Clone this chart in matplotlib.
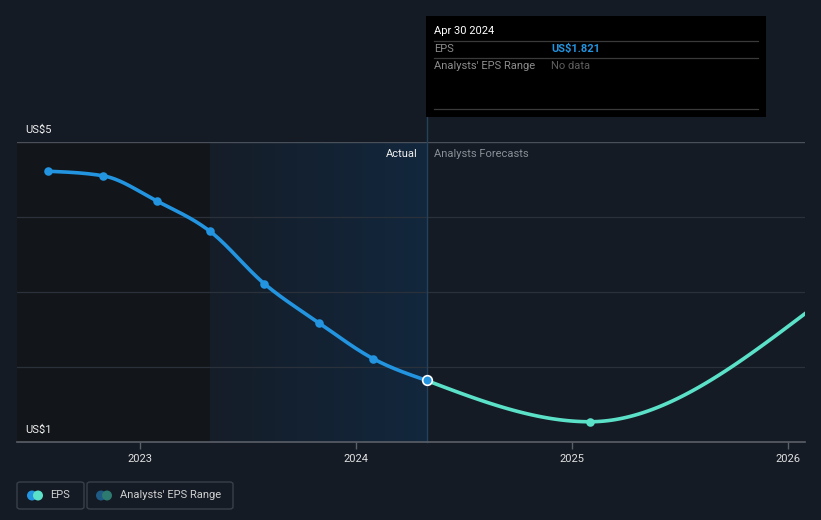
import numpy as np
import pandas as pd
import matplotlib
matplotlib.use("Agg")
import matplotlib.pyplot as plt
import matplotlib.dates as mdates
from matplotlib.patches import FancyBboxPatch, Rectangle, Ellipse
from matplotlib.lines import Line2D
from matplotlib.colors import LinearSegmentedColormap

plt.rcParams['font.family'] = ['Roboto', 'DejaVu Sans']

# ---- data ----
actual_dates = ["2022-07-31", "2022-10-31", "2023-01-31", "2023-04-30",
                "2023-07-31", "2023-10-31", "2024-01-31", "2024-04-30"]
actual_eps = [4.61, 4.55, 4.21, 3.81, 3.11, 2.59, 2.11, 1.821]
forecast_dates = ["2024-04-30", "2025-01-31", "2026-01-31"]
forecast_eps = [1.821, 1.27, 2.72]
year_ticks = ["2023", "2024", "2025", "2026"]
y_labels = {1: "US$1", 5: "US$5"}

BG = "#151b25"
BLUE = "#2394df"
TEAL = "#5ce1c9"


def monotone(x, y, n=60):
    x = np.asarray(x, float); y = np.asarray(y, float)
    h = np.diff(x); d = np.diff(y) / h
    m = np.zeros(len(x))
    for i in range(1, len(x) - 1):
        if d[i - 1] * d[i] <= 0:
            m[i] = 0
        else:
            s = (d[i - 1] * h[i] + d[i] * h[i - 1]) / (h[i - 1] + h[i])
            m[i] = np.sign(s) * min(abs(s), 2 * min(abs(d[i - 1]), abs(d[i])))
    m[0] = (3 * d[0] - m[1]) / 2 if len(x) > 2 else d[0]
    m[-1] = (3 * d[-1] - m[-2]) / 2 if len(x) > 2 else d[-1]
    xs, ys = [], []
    for i in range(len(x) - 1):
        t = np.linspace(0, 1, n)
        h00 = 2 * t**3 - 3 * t**2 + 1; h10 = t**3 - 2 * t**2 + t
        h01 = -2 * t**3 + 3 * t**2; h11 = t**3 - t**2
        xs.append(x[i] + t * h[i])
        ys.append(h00 * y[i] + h10 * h[i] * m[i] + h01 * y[i + 1] + h11 * h[i] * m[i + 1])
    return np.concatenate(xs), np.concatenate(ys)


W, H = 821, 520
fig = plt.figure(figsize=(W / 100, H / 100), dpi=100, facecolor=BG)
L, R, T, B = 17, 805, 142, 442
ax = fig.add_axes([L / W, 1 - B / H, (R - L) / W, (B - T) / H])
ax.set_facecolor(BG)

ad = mdates.date2num(pd.to_datetime(actual_dates))
fd = mdates.date2num(pd.to_datetime(forecast_dates))
x0 = mdates.date2num(pd.Timestamp("2023-01-01"))
ppd = 216.0 / 365.0
xmin = x0 - (139.5 - L) / ppd
xmax = x0 + (R - 139.5) / ppd

# shaded regions
ax.axvspan(xmin, ad[3], color="#121519", zorder=0, lw=0)
grad = np.linspace(0, 1, 256).reshape(1, -1)
cmap = LinearSegmentedColormap.from_list("g", ["#151d28", "#12273d"])
ax.imshow(grad, extent=[ad[3], ad[-1], 1, 5], aspect="auto", cmap=cmap, zorder=0.5)
ax.set_xlim(xmin, xmax)
ax.set_ylim(1, 5)

# grid
for v in [2, 3, 4]:
    ax.axhline(v, color="#2b313b", lw=0.9, zorder=1)
ax.axhline(5, color="#4a505a", lw=1, zorder=1)

# vertical divider
ax.plot([ad[-1], ad[-1]], [1, 5 + 25 / 75], color="#24425c", lw=1, clip_on=False, zorder=2)

# lines
xs, ys = monotone(ad, actual_eps)
ax.plot(xs, ys, color=BLUE, lw=2.6, zorder=3, solid_capstyle="round")
ax.scatter(ad[:-1], actual_eps[:-1], s=38, color=BLUE, zorder=4, lw=0)
xs, ys = monotone(fd, forecast_eps)
ax.plot(xs, ys, color=TEAL, lw=2.6, zorder=3)
ax.scatter(fd[1:2], forecast_eps[1:2], s=38, color=TEAL, zorder=4, lw=0)
ax.scatter([ad[-1]], [actual_eps[-1]], s=48, color=BLUE, edgecolor="white", lw=1.2, zorder=5)

# axes styling
for s in ["top", "right", "left"]:
    ax.spines[s].set_visible(False)
ax.spines["bottom"].set_color("#5a5f68")
ax.spines["bottom"].set_linewidth(1.2)
ax.set_yticks([])
tick_pos = mdates.date2num(pd.to_datetime([f"{y}-01-01" for y in year_ticks]))
ax.set_xticks(tick_pos)
ax.set_xticklabels(year_ticks, color="#e0e0e0", fontsize=8)
ax.tick_params(axis="x", colors="#5a5f68", length=5, width=1, pad=4, labelcolor="#e0e0e0")

# y labels
for v, lab in y_labels.items():
    fig.text(25 / W, 1 - (B - (v - 1) * 75 - 12) / H, lab, color="#f0f0f0", fontsize=8,
             va="center", ha="left")

fig.text(418 / W, 1 - 154 / H, "Actual", color="#f0f0f0", fontsize=8, ha="right", va="center")
fig.text(434 / W, 1 - 154 / H, "Analysts Forecasts", color="#8a8f96", fontsize=8, ha="left", va="center")

# tooltip
fig.patches.append(Rectangle((426 / W, 1 - 117 / H), 340 / W, 101 / H, transform=fig.transFigure,
                             facecolor="#000000", edgecolor="none", zorder=5))
for yy in [41, 58, 109]:
    fig.lines.append(Line2D([434 / W, 758 / W], [1 - yy / H] * 2, transform=fig.transFigure,
                            color="#3a3a3a", lw=0.9, zorder=6))
fig.text(434 / W, 1 - 31 / H, "Apr 30 2024", color="white", fontsize=8, va="center", zorder=7)
fig.text(434 / W, 1 - 49 / H, "EPS", color="#8c8c8c", fontsize=8, va="center", zorder=7)
fig.text(551 / W, 1 - 49 / H, "US$1.821", color=BLUE, fontsize=8, va="center", weight="bold", zorder=7)
fig.text(434 / W, 1 - 66 / H, "Analysts' EPS Range", color="#8c8c8c", fontsize=8, va="center", zorder=7)
fig.text(551 / W, 1 - 66 / H, "No data", color="#5e5e5e", fontsize=8, va="center", zorder=7)

# legend
def box(x1, x2):
    fig.patches.append(FancyBboxPatch((x1 / W, 1 - 509 / H), (x2 - x1) / W, 27 / H,
                                      boxstyle="round,pad=0,rounding_size=0.004",
                                      transform=fig.transFigure, facecolor="none",
                                      edgecolor="#3a404a", lw=1))

def dots(x, c1, c2):
    for dx, c in [(0, c1), (6, c2)]:
        fig.patches.append(Ellipse(((x + dx) / W, 1 - 495.5 / H), 10 / W, 10 / H,
                                   transform=fig.transFigure, facecolor=c, edgecolor="none"))

box(17, 84)
box(87, 233)
dots(32, BLUE, TEAL)
dots(101, "#1f5a85", "#2d7a70")
fig.text(50 / W, 1 - 495.5 / H, "EPS", color="#d0d0d0", fontsize=8, va="center")
fig.text(120 / W, 1 - 495.5 / H, "Analysts' EPS Range", color="#d0d0d0", fontsize=8, va="center")

fig.savefig("out.png", dpi=100, facecolor=BG)
